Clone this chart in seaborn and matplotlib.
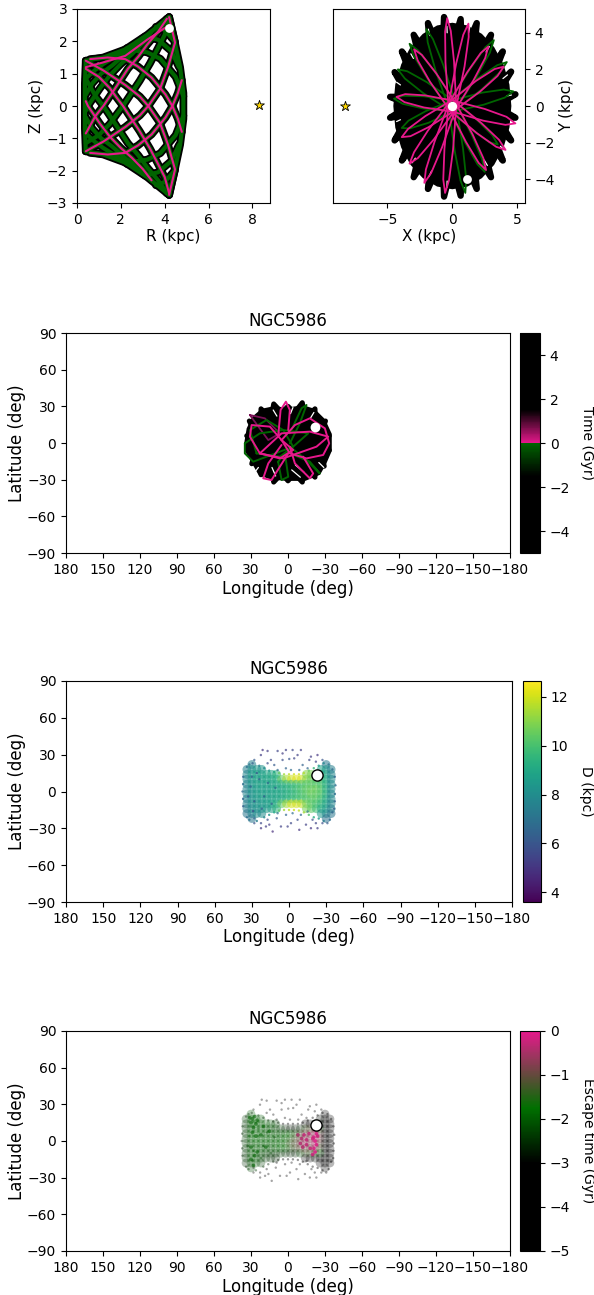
import numpy as np
import pandas as pd
import matplotlib
matplotlib.use("Agg")
import matplotlib.pyplot as plt
from matplotlib.colors import LinearSegmentedColormap, Normalize
from matplotlib.cm import ScalarMappable
import seaborn as sns

nan = float("nan")
BLACK, GREEN, PINK, DPINK = "#000000", "#006400", "#e7188c", "#7a0f55"
plt.rcParams["axes.labelsize"] = 12
plt.rcParams["axes.titlesize"] = 12

# ---------- meridional orbit (R, Z) strands, kpc ----------
rz_bounds = [
    [(4.2,2.75),(4.45,2.0),(4.7,1.2),(4.85,0.4),(4.85,-0.4),(4.7,-1.2),(4.45,-2.0),(4.2,-2.75)],
    [(0.4,1.4),(1.2,1.5),(2.2,1.75),(3.2,2.2),(4.2,2.75)],
    [(0.4,-1.4),(1.2,-1.5),(2.2,-1.75),(3.2,-2.2),(4.2,-2.75)],
    [(0.4,1.4),(0.36,0.7),(0.36,0),(0.36,-0.7),(0.4,-1.4)],
]
rz_rising = [
    [(0.4,-1.4),(1.2,-1.1),(2.2,-0.65),(2.87,-0.29),(3.25,0),(3.78,0.52),(4.15,1.2),(4.47,1.96),(4.2,2.75)],
    [(0.4,-1.15),(1.0,-0.9),(1.5,-0.55),(1.84,-0.23),(2.1,0),(2.32,0.23),(2.86,0.78),(3.33,1.32),(3.7,1.8),(4.0,2.2),(4.2,2.7)],
    [(0.4,-0.85),(0.85,-0.3),(1.2,0),(1.42,0.22),(1.82,0.63),(2.32,1.15),(2.8,1.53),(3.2,1.9),(3.7,2.3),(4.1,2.7)],
    [(0.4,-0.15),(0.5,0),(0.7,0.2),(1.05,0.55),(1.5,0.95),(2.0,1.3),(2.5,1.6),(3.0,1.95),(3.4,2.3)],
    [(0.4,0.35),(0.7,0.7),(1.1,1.0),(1.6,1.25),(2.1,1.55),(2.6,1.85),(3.0,2.1)],
    [(0.4,0.85),(0.8,1.1),(1.2,1.3),(1.8,1.55),(2.3,1.8)],
    [(0.6,-1.45),(1.4,-1.5),(2.2,-1.45),(2.78,-1.22),(3.4,-0.88),(4.03,-0.36),(4.35,0),(4.6,0.4),(4.78,0.8)],
    [(1.8,-1.6),(2.6,-1.72),(3.2,-1.66),(3.8,-1.46),(4.5,-0.9),(4.85,-0.3)],
    [(3.1,-2.15),(3.7,-2.05),(4.3,-1.7),(4.65,-1.2)],
    [(3.6,-2.45),(4.0,-2.35),(4.45,-2.0)],
]
rz_falling = [
    [(0.4,1.4),(1.2,1.1),(2.2,0.65),(2.87,0.29),(3.25,0),(3.78,-0.52),(4.15,-1.2),(4.47,-1.96),(4.2,-2.75)],
    [(0.4,1.15),(1.0,0.9),(1.5,0.55),(1.84,0.23),(2.1,0),(2.32,-0.23),(2.86,-0.78),(3.33,-1.32),(3.7,-1.8),(4.0,-2.2),(4.2,-2.7)],
    [(0.4,0.85),(0.85,0.3),(1.2,0),(1.42,-0.22),(1.82,-0.63),(2.32,-1.15),(2.8,-1.53),(3.2,-1.9),(3.7,-2.3),(4.1,-2.7)],
    [(0.4,0.15),(0.5,0),(0.7,-0.2),(1.05,-0.55),(1.5,-0.95),(2.0,-1.3),(2.5,-1.6),(3.0,-1.95),(3.4,-2.3)],
    [(0.4,-0.35),(0.7,-0.7),(1.1,-1.0),(1.6,-1.25),(2.1,-1.55),(2.6,-1.85),(3.0,-2.1)],
    [(0.4,-0.85),(0.8,-1.1),(1.2,-1.3),(1.8,-1.55),(2.3,-1.8)],
    [(0.6,1.45),(1.4,1.5),(2.2,1.45),(2.78,1.22),(3.4,0.88),(4.03,0.36),(4.35,0),(4.6,-0.4),(4.78,-0.8)],
    [(1.8,1.6),(2.6,1.72),(3.2,1.66),(3.8,1.46),(4.5,0.9),(4.85,0.3)],
    [(3.1,2.15),(3.7,2.05),(4.3,1.7),(4.65,1.2)],
    [(3.6,2.45),(4.0,2.35),(4.45,2.0)],
]
rz_pink = [rz_rising[0], rz_rising[2], rz_rising[6], rz_falling[0], rz_falling[1], rz_falling[3], rz_falling[6],
           [(4.2,2.5),(3.2,2.05),(2.2,1.55),(1.2,1.35),(0.4,1.2)]]

# ---------- face-on orbit (X, Y), kpc ----------
xy_mass_x = [4.55,4.4,3.94,3.22,2.28,1.18,0,-1.18,-2.28,-3.22,-3.94,-4.4,-4.55,-4.4,-3.94,-3.22,-2.28,-1.18,0,1.18,2.28,3.22,3.94,4.4]
xy_mass_y = [0,1.18,2.28,3.22,3.94,4.4,4.55,4.4,3.94,3.22,2.28,1.18,0,-1.18,-2.28,-3.22,-3.94,-4.4,-4.55,-4.4,-3.94,-3.22,-2.28,-1.18]
xy_black = [
    [(3.6,0.5),(4.86,0.64),(3.8,0.2)],
    [(3.4,1.1),(4.53,1.88),(3.7,0.9)],
    [(2.9,2.0),(3.89,2.98),(3.2,1.7)],
    [(2.1,2.9),(2.98,3.89),(2.5,2.5)],
    [(1.2,3.4),(1.88,4.53),(1.7,3.2)],
    [(0.2,3.7),(0.64,4.75),(0.7,3.6)],
    [(-0.7,3.6),(-0.64,4.86),(-0.2,3.7)],
    [(-1.7,3.2),(-1.88,4.53),(-1.2,3.4)],
    [(-2.5,2.5),(-2.98,3.89),(-2.1,2.9)],
    [(-3.2,1.7),(-3.89,2.98),(-2.9,2.0)],
    [(-3.7,0.9),(-4.45,1.85),(-3.4,1.1)],
    [(-3.8,0.2),(-4.80,0.50),(-3.6,0.5)],
    [(-3.6,-0.5),(-4.80,-0.64),(-3.8,-0.2)],
    [(-3.4,-1.1),(-4.45,-1.88),(-3.7,-0.9)],
    [(-2.9,-2.0),(-3.89,-2.98),(-3.2,-1.7)],
    [(-2.1,-2.9),(-2.98,-3.89),(-2.5,-2.5)],
    [(-1.2,-3.4),(-1.88,-4.53),(-1.7,-3.2)],
    [(-0.2,-3.7),(-0.64,-4.95),(-0.7,-3.6)],
    [(0.7,-3.6),(0.64,-4.90),(0.2,-3.7)],
    [(1.7,-3.2),(1.88,-4.53),(1.2,-3.4)],
    [(2.5,-2.5),(2.98,-3.89),(2.1,-2.9)],
    [(3.2,-1.7),(3.89,-2.98),(2.9,-2.0)],
    [(3.7,-0.9),(4.53,-1.88),(3.4,-1.1)],
    [(3.8,-0.2),(4.86,-0.64),(3.6,-0.5)],
]
xy_slits = [
    [(-1.75,3.85),(-1.85,4.2)], [(-0.4,4.0),(-0.42,4.35)], [(1.25,4.0),(1.35,4.35)], [(2.6,2.95),(2.85,3.25)],
    [(3.9,1.5),(4.25,1.7)], [(4.2,0.55),(4.55,0.6)], [(-3.0,2.6),(-3.2,2.85)], [(-4.0,1.15),(-4.3,1.3)],
    [(-4.0,-0.75),(-4.3,-0.85)], [(-2.85,-2.85),(-3.1,-3.1)], [(-1.6,-3.55),(-1.8,-3.85)], [(-0.4,-4.1),(-0.42,-4.45)],
    [(2.45,-2.95),(2.7,-3.25)], [(3.7,-2.2),(4.0,-2.4)],
]
xy_hole_x = [0.0]
xy_hole_y = [0.0]
xy_pink = [
    [(-0.3,0.0),(-0.53,2.37),(-0.56,4.06),(-0.4,4.8),(-0.12,4.1),(0.13,2.43),(0.3,0.0)],
    [(-0.29,0.08),(0.3,2.34),(0.84,3.89),(1.24,4.5),(1.26,3.77),(0.94,2.16),(0.29,-0.08)],
    [(-0.23,0.2),(1.14,1.84),(2.19,2.9),(2.78,3.25),(2.53,2.62),(1.64,1.42),(0.23,-0.2)],
    [(-0.14,0.26),(1.82,1.37),(3.26,2.02),(3.96,2.15),(3.48,1.64),(2.14,0.79),(0.14,-0.26)],
    [(0.06,0.29),(2.49,-0.16),(4.17,-0.59),(4.86,-0.95),(4.09,-1.03),(2.37,-0.8),(-0.06,-0.29)],
    [(0.15,0.26),(2.22,-0.92),(3.6,-1.85),(4.1,-2.4),(3.38,-2.23),(1.88,-1.48),(-0.15,-0.26)],
    [(0.24,0.18),(1.56,-1.55),(2.39,-2.85),(2.6,-3.5),(2.03,-3.11),(1.04,-1.95),(-0.24,-0.18)],
    [(0.3,-0.04),(0.05,-2.42),(-0.26,-4.07),(-0.56,-4.75),(-0.7,-4.01),(-0.61,-2.34),(-0.3,0.04)],
    [(0.27,-0.14),(-0.79,-2.25),(-1.64,-3.67),(-2.16,-4.2),(-2.04,-3.47),(-1.37,-1.95),(-0.27,0.14)],
    [(0.21,-0.22),(-1.42,-1.82),(-2.65,-2.84),(-3.3,-3.15),(-2.95,-2.52),(-1.88,-1.34),(-0.21,0.22)],
    [(0.12,-0.28),(-1.82,-1.15),(-3.23,-1.65),(-3.9,-1.7),(-3.41,-1.25),(-2.08,-0.55),(-0.12,0.28)],
    [(-0.04,-0.3),(-2.19,-0.08),(-3.69,0.21),(-4.3,0.5),(-3.63,0.65),(-2.11,0.58),(0.04,0.3)],
    [(-0.22,-0.21),(-1.72,1.32),(-2.67,2.49),(-2.95,3.1),(-2.35,2.79),(-1.24,1.78),(0.22,0.21)],
]
xy_green = [
    [(-0.27,-0.13),(-1.3,1.96),(-1.9,3.48),(-2.0,4.2),(-1.5,3.66),(-0.7,2.24),(0.27,0.13)],
    [(-0.22,-0.21),(-1.89,1.47),(-2.97,2.74),(-3.3,3.4),(-2.65,3.04),(-1.41,1.93),(0.22,0.21)],
    [(-0.13,-0.27),(-2.24,0.7),(-3.66,1.5),(-4.2,2.0),(-3.48,1.9),(-1.96,1.3),(0.13,0.27)],
    [(-0.03,-0.3),(-2.28,-0.13),(-3.83,0.12),(-4.5,0.4),(-3.8,0.56),(-2.22,0.53),(0.03,0.3)],
    [(0.09,-0.29),(-1.85,-0.92),(-3.3,-1.23),(-3.9,-1.2),(-3.38,-0.8),(-2.05,-0.28),(-0.09,0.29)],
    [(-0.23,0.2),(1.35,2.02),(2.55,3.21),(3.2,3.6),(2.89,2.91),(1.85,1.58),(0.23,-0.2)],
    [(-0.15,0.26),(1.93,1.49),(3.46,2.23),(4.2,2.4),(3.68,1.85),(2.27,0.91),(0.15,-0.26)],
    [(-0.05,0.3),(2.29,0.73),(3.96,0.9),(4.7,0.8),(4.04,0.46),(2.41,0.07),(0.05,-0.3)],
    [(0.15,0.26),(1.92,-0.77),(3.09,-1.6),(3.5,-2.1),(2.86,-1.98),(1.58,-1.33),(-0.15,-0.26)],
    [(0.25,0.17),(1.52,-1.61),(2.3,-2.93),(2.5,-3.6),(1.94,-3.19),(0.98,-1.99),(-0.25,-0.17)],
    [(0.29,0.06),(0.82,-2.31),(1.07,-3.99),(1.0,-4.75),(0.63,-4.08),(0.18,-2.45),(-0.29,-0.06)],
]

# ---------- orbit on the sky (lon, lat), deg ----------
sky_mass_lon = [35.5,33.5,29,21.5,12,0,-12,-21.5,-30,-35.5,-35.5,-31,-26,-14,0,14,24,29,34.5]
sky_mass_lat = [0,12,21.5,28,30,29,31,28,19.5,7.5,-6.5,-17,-26,-31,-31,-30,-26,-17,-7.5]
sky_black = [
    [(27,6),(33.5,5.9),(27,0)],
    [(25,14),(31.4,18),(27,9)],
    [(17,23),(21.9,28),(22,18)],
    [(7,27),(11.6,32),(13,24)],
    [(-4,26),(0,30),(4,26)],
    [(-13,24),(-11.6,33),(-7,27)],
    [(-22,18),(-21.9,28),(-17,23)],
    [(-27,9),(-30.4,18),(-25,14)],
    [(-27,0),(-33.5,5.9),(-27,6)],
    [(-27,-6),(-33.5,-5.9),(-27,0)],
    [(-25,-14),(-29.4,-19),(-27,-9)],
    [(-17,-23),(-21.9,-28),(-22,-18)],
    [(-7,-27),(-11.6,-32),(-13,-24)],
    [(4,-26),(0,-31),(-4,-26)],
    [(13,-24),(11.6,-32),(7,-27)],
    [(22,-18),(21.9,-26),(17,-23)],
    [(27,-9),(29.4,-17),(25,-14)],
    [(27,0),(33.5,-5.9),(27,-6)],
]
sky_slits = [
    [(-6,-18),(-13,-24)], [(-3,-22),(-10,-28)], [(13,-20),(10,-27)], [(-2,24),(-4,29)],
    [(-25,-16),(-29,-20)], [(24,-20),(27,-24)], [(9,22),(12,27)], [(-18,20),(-21,25)],
]
sky_green = [
    [(35,-0.3),(22.8,7.9),(3.9,10.6),(-16.4,7.9),(-4.2,-3),(28.2,-15.3),(35,-8.5),(35,-0.3)],
    [(-1.5,7.9),(-11,28.4),(-15,31.1),(-9.6,16.1),(-1.5,-0.3)],
    [(8,-15.3),(5.2,-30.3),(-0.2,-27.6),(2.5,-8.5),(8,-15.3)],
    [(25.5,-8.5),(30.9,10.6),(17.4,18.8),(3.9,10.6),(-4.2,-3),(6.6,-11.2),(25.5,-8.5)],
    [(-1.5,-8.5),(-17.7,-15.3),(-25.8,-24.9),(-14,-13),(-1.5,-3)],
]
sky_dpink = [
    [(30.9,22.9),(18.8,20.2),(6.6,7.9),(16,2.4),(30.9,22.9)],
]
sky_pink = [
    [(5.2,2.4),(-5.6,14.7),(-17.7,20.2),(-29.9,12),(-33.4,-0.3),(-28.5,-9.8),(-15,-12.6),(-1.5,-8.5),(5.2,2.4)],
    [(5.2,2.4),(14.7,13.4),(29.5,14.7),(30.9,5.2),(22.8,-8.5),(6.6,-12.6),(-4.2,-5.7),(5.2,2.4)],
    [(8,5.2),(6,27),(1.7,33.8),(-1.5,27),(-0.2,10.6)],
    [(5.2,-1.6),(16,-16.7),(20.1,-28.9),(13.4,-30.3),(-0.2,-8.5)],
    [(-1.5,-3),(-5.6,-16.7),(-17.7,-28.9),(-20.4,-24.9),(-12.3,-11.2)],
    [(22.8,-8.5),(5.2,7.9),(-17.7,9.3),(-32.6,5.2),(-23.1,-3),(3.9,-12.6),(22.8,-8.5)],
]

# ---------- stream cloud: binned band (rows = lat, columns = lon) ----------
band_lon = [34,30,26,22,18,14,10,6,2,-2,-6,-10,-14,-18,-22,-26,-30,-34]
band_lat = [22,18,14,10,6,2,-2,-6,-10,-14,-18,-22]
band_D = [
    [nan,7.5,nan,nan,nan,nan,nan,nan,nan,nan,nan,nan,nan,nan,nan,nan,7.2,nan],
    [7.5,8.2,8.5,8.3,nan,nan,nan,nan,nan,nan,nan,nan,nan,nan,nan,8.8,8.5,7.5],
    [7.8,8.6,8.8,8.8,8.9,9.0,9.5,nan,nan,nan,nan,nan,11.0,10.8,10.2,9.5,9.0,7.8],
    [7.8,8.5,8.8,8.8,8.9,9.0,9.2,10.5,11.5,12.0,12.2,12.0,11.0,10.6,10.2,9.8,9.2,8.0],
    [7.8,8.4,8.7,8.8,8.8,8.9,9.0,9.2,9.5,9.6,9.8,10.0,10.2,10.3,10.2,10.0,9.2,8.0],
    [7.7,8.3,8.6,8.7,8.7,8.8,8.9,9.0,9.2,9.5,9.8,10.1,10.4,10.5,10.6,10.2,9.3,8.0],
    [7.7,8.3,8.6,8.7,8.7,8.8,8.9,9.0,9.2,9.4,9.7,10.0,10.3,10.6,10.4,10.2,9.3,7.9],
    [7.7,8.3,8.5,8.6,8.7,8.8,8.9,9.0,9.3,9.6,9.8,10.0,10.1,10.3,10.3,9.9,9.1,7.9],
    [7.6,8.2,8.4,8.5,8.6,8.8,9.2,10.4,11.4,12.0,12.0,11.8,10.8,10.3,10.0,9.6,8.9,7.8],
    [7.5,8.0,8.3,8.4,8.5,8.7,9.4,nan,nan,nan,nan,nan,10.8,10.4,9.8,9.2,8.6,7.6],
    [7.2,7.8,8.0,8.0,nan,nan,nan,nan,nan,nan,nan,nan,nan,nan,nan,8.4,8.0,7.2],
    [nan,7.2,nan,nan,nan,nan,nan,nan,nan,nan,nan,nan,nan,nan,nan,nan,7.0,nan],
]
band_esc = [
    [nan,-2.0,nan,nan,nan,nan,nan,nan,nan,nan,nan,nan,nan,nan,nan,nan,-3.4,nan],
    [-2.3,-1.9,-1.8,-2.0,nan,nan,nan,nan,nan,nan,nan,nan,nan,nan,nan,-2.9,-3.2,-3.6],
    [-2.4,-1.9,-1.8,-1.9,-2.0,-2.0,-2.2,nan,nan,nan,nan,nan,-3.0,-3.0,-2.8,-2.8,-3.2,-3.6],
    [-2.4,-2.0,-1.9,-2.0,-2.0,-2.1,-2.2,-2.4,-2.6,-2.8,-2.8,-2.6,-1.3,-1.1,-0.9,-1.5,-3.0,-3.5],
    [-2.3,-1.9,-1.9,-1.9,-2.0,-2.0,-2.0,-2.0,-1.9,-1.7,-1.4,-1.2,-0.9,-0.8,-0.5,-0.9,-3.0,-3.6],
    [-2.3,-1.9,-1.8,-1.9,-1.9,-1.9,-1.9,-1.9,-1.8,-1.5,-1.2,-0.9,-0.6,-0.7,-0.35,-0.8,-3.0,-3.6],
    [-2.3,-2.0,-1.9,-1.9,-1.9,-1.9,-1.9,-1.8,-1.6,-1.3,-1.1,-0.8,-0.5,-0.8,-0.3,-1.0,-3.0,-3.6],
    [-2.3,-2.0,-1.9,-2.0,-2.0,-2.0,-1.9,-1.8,-1.7,-1.4,-1.2,-1.0,-0.8,-1.0,-0.5,-1.2,-3.1,-3.6],
    [-2.4,-2.0,-2.0,-2.1,-2.2,-2.3,-2.3,-2.4,-2.5,-2.6,-2.6,-2.2,-1.3,-1.3,-1.2,-1.8,-3.2,-3.6],
    [-2.4,-2.0,-2.0,-2.2,-2.4,-2.5,-2.6,nan,nan,nan,nan,nan,-3.0,-3.0,-2.9,-3.0,-3.3,-3.6],
    [-2.5,-2.1,-2.0,-2.3,nan,nan,nan,nan,nan,nan,nan,nan,nan,nan,nan,-3.2,-3.4,-3.7],
    [nan,-2.2,nan,nan,nan,nan,nan,nan,nan,nan,nan,nan,nan,nan,nan,nan,-3.5,nan],
]
# sparse halo of the cloud
halo_lon = [21.3,17.3,9.2,2.5,-2.9,-9.6,22.7,14.6,11.9,5.2,-0.2,-4.2,-11,-17.7,-23,-21.7,17.3,2.5,9.2,-1.6,-8.3,-15,28,29.4,-27,5.2,-6.9,-16.4,
            28,22.6,15.9,13.2,22.6,9.2,2.4,-2.9,-9.6,-15,6.5,1.1,-8.3,-13.7,-17.7,-23,-27,-31,17.3,9.9,-6.9,-19,28,18.6,-1.6,-21.7]
halo_lat = [33.8,33,33,33.8,33.8,33.8,29.7,25.7,21.6,25.7,26.5,27,21.6,28.4,29.7,24.3,23,18.9,17.5,17.5,17.5,18.9,25.7,23,25.7,31,29.7,25.7,
            -25.8,-25.8,-27,-32.6,-29.9,-17.7,-19,-17.7,-19,-16.3,-28.5,-28.5,-31.2,-27,-29.9,-29.9,-25.8,-25.8,-23,-21.8,-23,-23,-21.8,-28.5,-25.8,-25.8]
halo_D = [5.0,5.2,5.5,5.4,5.6,5.3,5.2,5.6,6.2,5.8,6.0,5.5,6.4,5.2,5.0,5.5,5.8,6.5,6.6,6.8,6.6,6.5,6.2,6.4,6.0,5.2,5.4,5.6,
          6.0,5.6,5.2,4.8,5.0,6.8,6.6,6.8,6.6,7.0,5.4,5.4,5.0,5.4,5.0,5.2,5.8,6.2,5.8,6.2,5.8,5.8,6.6,5.2,5.6,5.5]
halo_esc = [-3.5,-3.4,-3.6,-3.5,-3.6,-3.4,-3.2,-3.3,-3.5,-3.6,-3.4,-3.5,-3.6,-3.6,-3.6,-3.7,-3.3,-3.6,-3.5,-3.6,-3.6,-3.6,-2.8,-2.6,-3.8,-3.5,-3.6,-3.6,
            -2.9,-3.1,-3.3,-3.4,-3.2,-3.4,-3.5,-3.6,-3.6,-3.7,-3.5,-3.6,-3.6,-3.6,-3.7,-3.7,-3.8,-3.8,-3.3,-3.5,-3.6,-3.7,-2.8,-3.3,-3.6,-3.7]
# ragged rim of the band and darker specks inside it
edge_lon = [34,32,24,20,16,12,8,4,0,-4,-8,-12,-16,-20,-24,-28,-32,-35,
            34,32,26,20,16,12,8,4,0,-4,-8,-12,-16,-20,-24,-28,-33,-35,
            37,37,37.5,37,37,-37,-37.5,-37,-37,-36.5,
            31,28,24,20,17,26,29,14,11,22,33,30]
edge_lat = [20,22,21,19,17,16,15,14,14,14,14,15,17,19,21,23,22,18,
            -21,-23,-24,-21,-19,-17,-15.5,-15,-15,-15,-15.5,-17,-19,-21,-22,-24,-23,-17,
            12,6,0,-6,-12,12,5,-2,-8,-14,
            4,-8,10,-4,7,15,-16,-10,3,-14,-4,12]
edge_D = [7.0,7.2,7.6,8.0,8.4,9.0,10.5,11.4,11.8,12.0,12.0,11.6,10.5,9.6,8.6,7.8,7.2,6.8,
          6.8,7.0,7.4,7.8,8.2,9.0,10.4,11.4,11.8,12.0,11.8,11.4,10.2,9.2,8.4,7.4,6.8,6.6,
          6.6,6.8,6.8,6.6,6.4,6.6,6.8,6.8,6.6,6.4,
          6.4,6.2,6.6,6.4,6.8,6.2,6.0,6.6,6.8,6.4,6.2,6.4]
edge_esc = [-2.6,-2.4,-2.4,-2.5,-2.6,-2.7,-2.8,-3.0,-3.1,-3.1,-3.2,-3.2,-3.2,-3.2,-3.2,-3.3,-3.5,-3.6,
            -2.6,-2.4,-2.4,-2.5,-2.6,-2.7,-2.8,-3.0,-3.1,-3.1,-3.2,-3.2,-3.2,-3.2,-3.2,-3.3,-3.5,-3.6,
            -2.6,-2.6,-2.6,-2.6,-2.6,-3.7,-3.7,-3.7,-3.7,-3.7,
            -2.0,-2.0,-2.0,-2.1,-2.1,-2.0,-2.2,-2.2,-2.3,-2.1,-2.3,-2.1]
# recently escaped (pink) and greener clumps of the escape-time panel
late_lon = [-22,-23,-21,-22,-23,-21,-22,-20,-24,-20,-8,-11,-13,-15,-10,-12,-15,-17,-18]
late_lat = [9,6,3,0,-3,-6,-9,-11,4,2,5,2,5,1,-2,-5,-3,6,-6]
late_esc = [-0.1,-0.1,-0.15,-0.1,-0.1,-0.15,-0.1,-0.2,-0.2,-0.2,-0.5,-0.4,-0.3,-0.3,-0.4,-0.4,-0.3,-0.3,-0.3]
clump_lon = [29,27,30,26,28,31,25,29,26,30,27,30,28,25,22,20,18,15]
clump_lat = [18,20,15,14,11,19,17,7,4,-5,-12,-15,-20,-9,5,12,-5,8]
clump_esc = [-1.9,-1.9,-1.9,-1.9,-1.9,-1.9,-1.9,-1.9,-1.9,-1.9,-1.9,-1.9,-1.9,-1.9,-1.9,-1.9,-1.9,-1.9]

lon_ticks = [180,150,120,90,60,30,0,-30,-60,-90,-120,-150,-180]
lat_ticks = [-90,-60,-30,0,30,60,90]

# ---------- helpers ----------
W, H = 594, 1295
fig = plt.figure(figsize=(W/100, H/100), dpi=100)

def box(x0, y0, x1, y1):
    return fig.add_axes([x0/W, 1-y1/H, (x1-x0)/W, (y1-y0)/H])

def strands(ax, paths, color, lw):
    rows = [(i, a, b) for i, p in enumerate(paths) for a, b in p]
    df = pd.DataFrame(rows, columns=["strand", "a", "b"])
    sns.lineplot(data=df, x="a", y="b", units="strand", estimator=None, sort=False,
                 color=color, linewidth=lw, ax=ax, legend=False,
                 solid_joinstyle="round", solid_capstyle="round")

def marker(ax, x, y, m, s, fc, ec="k", lw=0.8):
    sns.scatterplot(x=[x], y=[y], marker=m, s=s, color=fc, edgecolor=ec, linewidth=lw,
                    ax=ax, legend=False, zorder=10)

def sky_axes(ax):
    ax.set_xlim(180, -180); ax.set_ylim(-90, 90)
    ax.set_xticks(lon_ticks); ax.set_yticks(lat_ticks)
    ax.set_xlabel("Longitude (deg)", labelpad=2); ax.set_ylabel("Latitude (deg)", labelpad=1)
    ax.set_title("NGC5986", pad=5)

def cbar(ax_box, cmap, norm, ticks, label):
    cax = box(*ax_box)
    cb = fig.colorbar(ScalarMappable(norm=norm, cmap=cmap), cax=cax)
    cb.set_ticks(ticks)
    cb.set_label(label, rotation=270, labelpad=17.5, fontsize=10)

time_cmap = LinearSegmentedColormap.from_list("t", [(0,"k"),(0.35,"k"),(0.4999,GREEN),(0.5001,PINK),(0.65,"k"),(1,"k")], N=256)
esc_cmap = LinearSegmentedColormap.from_list("e", [(0,"k"),(0.4,"k"),(0.65,"#007000"),(1,PINK)], N=256)

def band_frame(values):
    df = pd.DataFrame(values, index=band_lat, columns=band_lon)
    df = df.rename_axis(index="lat", columns="lon").reset_index().melt(id_vars="lat", value_name="v")
    return df.dropna()

# ---------- panel 1: R-Z ----------
ax = box(77, 9, 270, 203)
all_rz = rz_bounds + rz_rising + rz_falling
strands(ax, all_rz, BLACK, 5.6)
strands(ax, all_rz, GREEN, 3.0)
strands(ax, rz_pink, PINK, 1.5)
marker(ax, 4.2, 2.42, "o", 40, "white", "white", 0)
marker(ax, 8.3, 0.03, "*", 55, "gold", "k", 0.6)
ax.set_xlim(0, 8.8); ax.set_ylim(-3, 3)
ax.set_xticks([0,2,4,6,8]); ax.set_yticks([-3,-2,-1,0,1,2,3])
ax.set_xlabel("R (kpc)", labelpad=2, fontsize=11); ax.set_ylabel("Z (kpc)", labelpad=2, fontsize=11)

# ---------- panel 2: X-Y ----------
ax = box(333, 9, 525, 203)
ax.fill(xy_mass_x, xy_mass_y, color=BLACK, linewidth=0)
strands(ax, xy_black, BLACK, 4.6)
strands(ax, xy_slits, "white", 0.9)
sns.scatterplot(x=xy_hole_x, y=xy_hole_y, s=45, color="white", linewidth=0, ax=ax, legend=False, zorder=3)
strands(ax, xy_green, GREEN, 1.3)
strands(ax, xy_pink, PINK, 1.3)
marker(ax, 1.1, -4.0, "o", 40, "white", "white", 0)
marker(ax, -8.3, 0.0, "*", 55, "gold", "k", 0.6)
ax.set_xlim(-9.2, 5.6); ax.set_ylim(-5.3, 5.3)
ax.set_xticks([-5,0,5]); ax.set_yticks([-4,-2,0,2,4])
ax.yaxis.tick_right(); ax.yaxis.set_label_position("right")
ax.set_xlabel("X (kpc)", labelpad=2, fontsize=11); ax.set_ylabel("Y (kpc)", labelpad=3, fontsize=11)

# ---------- panel 3: sky orbit ----------
ax = box(66, 333, 510, 553)
ax.fill(sky_mass_lon, sky_mass_lat, color=BLACK, linewidth=0)
strands(ax, sky_black, BLACK, 3.6)
strands(ax, sky_slits, "white", 0.9)
strands(ax, sky_dpink, DPINK, 1.3)
strands(ax, sky_green, GREEN, 1.4)
strands(ax, sky_pink, PINK, 1.4)
marker(ax, -22, 13.3, "o", 50, "white", "white", 0)
sky_axes(ax)
cbar((520, 333, 540, 553), time_cmap, Normalize(-5, 5), [-4,-2,0,2,4], "Time (Gyr)")

# ---------- panel 4: distance ----------
ax = box(66, 681, 512, 902)
norm = Normalize(3.6, 12.65)
sns.scatterplot(data=band_frame(band_D), x="lon", y="lat", hue="v", palette="viridis", hue_norm=norm,
                s=40, linewidth=0, alpha=0.55, ax=ax, legend=False)
sns.scatterplot(x=edge_lon, y=edge_lat, hue=edge_D, palette="viridis", hue_norm=norm,
                s=3, linewidth=0, alpha=0.8, ax=ax, legend=False)
sns.scatterplot(x=halo_lon, y=halo_lat, hue=halo_D, palette="viridis", hue_norm=norm,
                s=3, linewidth=0, alpha=0.7, ax=ax, legend=False)
marker(ax, -22.5, 13.3, "o", 65, "white", "k", 1.0)
sky_axes(ax)
cbar((523, 681, 541, 902), "viridis", norm, [4,6,8,10,12], "D (kpc)")

# ---------- panel 5: escape time ----------
ax = box(66, 1031, 510, 1251)
norm = Normalize(-5, 0)
sns.scatterplot(data=band_frame(band_esc), x="lon", y="lat", hue="v", palette=esc_cmap, hue_norm=norm,
                s=40, linewidth=0, alpha=0.28, ax=ax, legend=False)
sns.scatterplot(x=edge_lon, y=edge_lat, hue=edge_esc, palette=esc_cmap, hue_norm=norm,
                s=3, linewidth=0, alpha=0.4, ax=ax, legend=False)
sns.scatterplot(x=halo_lon, y=halo_lat, hue=halo_esc, palette=esc_cmap, hue_norm=norm,
                s=3, linewidth=0, alpha=0.35, ax=ax, legend=False)
sns.scatterplot(x=clump_lon, y=clump_lat, hue=clump_esc, palette=esc_cmap, hue_norm=norm,
                s=7, linewidth=0, alpha=0.55, ax=ax, legend=False)
sns.scatterplot(x=late_lon, y=late_lat, hue=late_esc, palette=esc_cmap, hue_norm=norm,
                s=7, linewidth=0, alpha=0.85, ax=ax, legend=False)
marker(ax, -22.5, 13.3, "o", 65, "white", "k", 1.0)
sky_axes(ax)
cbar((520, 1031, 540, 1251), esc_cmap, norm, [-5,-4,-3,-2,-1,0], "Escape time (Gyr)")

fig.savefig("out.png", dpi=100)
